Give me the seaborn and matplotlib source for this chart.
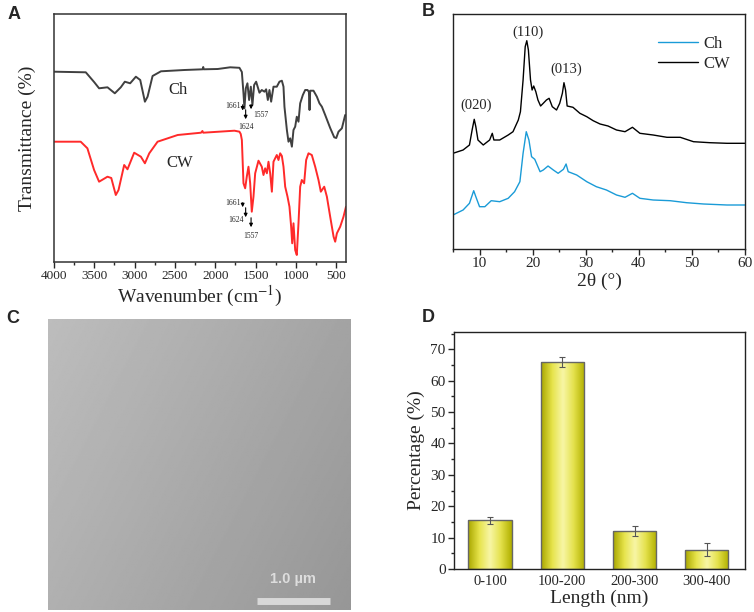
import numpy as np
import pandas as pd
import seaborn as sns
import matplotlib.pyplot as plt
from matplotlib.colors import LinearSegmentedColormap
from matplotlib.ticker import MultipleLocator

# ---- panel A: FTIR (wavenumber, transmittance a.u.) ----
ch_wn = [4000, 3606, 3503, 3441, 3337, 3246, 3172, 3122, 3056, 2985, 2931, 2873, 2840, 2778,
         2674, 2384, 2157, 2150, 2144, 1970, 1816, 1701, 1671, 1651, 1639, 1622, 1602, 1581,
         1560, 1540, 1519, 1494, 1453, 1424, 1391, 1370, 1349, 1329, 1308, 1279, 1238, 1205,
         1175, 1155, 1143, 1113, 1093, 1072, 1051, 1031, 1010, 990, 969, 948, 915, 886, 857,
         840, 832, 824, 783, 741, 709, 679, 638, 576, 526, 501, 473, 431, 390]
ch_t = [190.3, 189.7, 180, 173.7, 174.7, 168.7, 174.7, 180.3, 178.7, 185.3, 182, 160.3, 165.3, 186,
        190.7, 192, 192.7, 195, 192.7, 193, 194.7, 194.2, 190, 168.7, 153.7, 173.7, 178.7, 162,
        175.3, 157, 177, 180.3, 169.3, 172, 170.3, 172.7, 162, 172, 160.3, 175.3, 175.3, 180.3,
        181.3, 175.3, 155.3, 132, 120.3, 123.7, 115.3, 132, 135.3, 145.3, 140.3, 158.7, 167, 172, 172,
        170, 152, 171.3, 171.3, 165.3, 158.7, 155.3, 147, 134, 124.7, 124, 130.3, 133.7, 147]

cw_wn = [4000, 3669, 3586, 3503, 3441, 3337, 3290, 3234, 3200, 3130, 3089, 3006, 2923, 2873,
         2819, 2716, 2467, 2177, 2160, 2150, 1763, 1701, 1685, 1671, 1651, 1630, 1610, 1589,
         1568, 1548, 1527, 1506, 1465, 1424, 1403, 1382, 1361, 1341, 1320, 1299, 1279, 1238,
         1217, 1196, 1175, 1155, 1134, 1105, 1081, 1060, 1047, 1031, 1010, 990, 969, 948, 928,
         899, 874, 845, 804, 762, 721, 692, 650, 617, 576, 534, 514, 493, 452, 411, 380]
cw_t = [120.3, 120.3, 113.7, 92, 80.3, 85.3, 84, 67, 72, 97, 92.7, 109.3, 105.3, 98.7,
        108.7, 120.3, 127, 129.3, 131, 129.3, 131.3, 130.3, 128, 122, 78.7, 73.7, 85.3, 95.3,
        78.7, 50.3, 65.3, 88.7, 101.3, 95.3, 87, 93.7, 88.7, 100.3, 88.7, 70.3, 100.3, 107,
        102, 108.7, 106, 95.3, 75.3, 65.3, 55.3, 35.3, 18.7, 38.7, 12, 7, 38.7, 75.3, 82,
        78.7, 102, 108.7, 107, 95.3, 82, 70.3, 75.3, 65.3, 45.3, 25.3, 20.3, 28.7, 35.3, 45.3, 55.3]

# arrows: (wavenumber, start, end)
ch_arrows = [(1661, 160, 148.7), (1624, 155, 140), (1557, 160, 150)]
cw_arrows = [(1661, 62, 52), (1624, 57, 42), (1557, 47, 32)]

# ---- panel B: XRD ----
cw_2t = [5, 6.9, 8.1, 8.6, 9.0, 9.3, 9.7, 10.7, 11.9, 12.4, 12.7, 13.8, 15.4, 16.3, 17.3, 17.7,
         18.2, 18.6, 18.9, 19.2, 19.6, 19.9, 20.2, 20.6, 21.0, 21.5, 22.0, 22.6, 23.1, 23.7, 24.5,
         25.1, 25.6, 25.9, 26.2, 26.5, 27.6, 28.9, 30.2, 31.4, 32.7, 34.2, 35.8, 37.4, 38.8, 40.2,
         42.7, 45.3, 47.8, 50.3, 53.4, 56.6, 60]
cw_i = [95.7, 99, 104, 119, 129.7, 122.3, 109, 104, 109, 115.7, 109, 109, 114, 117.3, 129, 137.3,
        169, 202.3, 208.3, 199, 169, 159, 163, 157.3, 149, 143, 145.7, 149, 150.7, 142.3, 139,
        145.7, 155.7, 166.3, 159, 143, 141.7, 135.7, 132.3, 128.3, 125, 123, 119, 117.3, 121.7, 115.7,
        114, 111.7, 111.7, 107.3, 106.3, 105.7, 105.7]
ch_2t = [5, 6.9, 8.1, 8.9, 9.3, 10.0, 11.0, 12.2, 13.8, 15.4, 16.6, 17.6, 18.2, 18.8, 19.3, 19.8,
         20.4, 21.4, 22.0, 22.9, 23.9, 24.8, 25.8, 26.3, 26.7, 28.3, 30.2, 32.0, 33.9, 35.8, 37.4,
         38.8, 40.2, 42.7, 45.9, 49.0, 52.2, 56.6, 60]
ch_i = [34, 39, 45.7, 58.3, 52.3, 42.3, 42.3, 48.3, 47.3, 50.7, 57.3, 67.3, 95.7, 117.3, 109, 92.3,
        89.7, 77.3, 79, 83, 79, 75.7, 79.7, 85, 77.3, 74, 67.3, 62.3, 59, 54, 51.7,
        55.7, 50.7, 49, 48.3, 46.3, 45, 44, 44]
peaks = ['(020)', '(110)', '(013)']
peak_pos = [(9.4, 144), (19.2, 217), (26.3, 180)]

# ---- panel D: length distribution ----
lengths = ['0-100', '100-200', '200-300', '300-400']
percent = [15.5, 66.0, 12.1, 6.2]
err = [1.1, 1.5, 1.5, 2.0]

sns.set_style('ticks')
plt.rcParams['font.family'] = ['Liberation Serif', 'DejaVu Serif']
plt.rcParams['mathtext.fontset'] = 'stix'
plt.rcParams['xtick.direction'] = 'out'
plt.rcParams['ytick.direction'] = 'out'

fig = plt.figure(figsize=(7.54, 6.12), dpi=100)
W, H = 754, 612


def box(l, r, t, b):
    return fig.add_axes([l / W, 1 - b / H, (r - l) / W, (b - t) / H])


def letter(x, y, s):
    fig.text(x / W, 1 - y / H, s, fontsize=13, fontweight='bold',
             family='Liberation Sans', va='top', ha='left')


# ---------- A ----------
axA = box(54, 346, 14, 262)
sns.lineplot(x=ch_wn, y=ch_t, ax=axA, color='#404040', lw=1.4, estimator=None, sort=False)
sns.lineplot(x=cw_wn, y=cw_t, ax=axA, color='#ff2a2a', lw=1.4, estimator=None, sort=False)
axA.set_xlim(4000, 380)
axA.set_ylim(0, 248)
axA.set_yticks([])
axA.xaxis.set_major_locator(MultipleLocator(500))
axA.xaxis.set_minor_locator(MultipleLocator(250))
axA.tick_params(axis='x', labelsize=9.5, length=4, width=1, pad=2)
axA.tick_params(axis='x', which='minor', length=2.5, width=1)
axA.set_xlabel('Wavenumber (cm$^{-1}$)', fontsize=14)
axA.xaxis.set_label_coords(0.5, -0.09)
axA.set_ylabel('Transmittance (%)', fontsize=14)
axA.yaxis.set_label_coords(-0.06, 0.5)
axA.text(2462, 172, 'Ch', fontsize=12, ha='center', va='center')
axA.text(2437, 99, 'CW', fontsize=12, ha='center', va='center')
for arrows, labs in ((ch_arrows, [('r', -4), ('b', -5), ('l', -4)]),
                     (cw_arrows, [('r', -3), ('r2', -2), ('b', -6)])):
    for (wn, y0, y1), (side, dy) in zip(arrows, labs):
        axA.annotate('', xy=(wn, y1), xytext=(wn, y0),
                     arrowprops=dict(arrowstyle='-|>', color='black', lw=0.8,
                                     mutation_scale=5))
        lab = str(wn)
        if side == 'r':
            axA.text(wn + 25, y0 + dy, lab, fontsize=5.5, ha='right', va='center')
        elif side == 'r2':
            axA.text(wn + 20, y1, lab, fontsize=5.5, ha='right', va='center')
        elif side == 'l':
            axA.text(wn - 25, y1 + 1 + dy, lab, fontsize=5.5, ha='left', va='center')
        else:
            axA.text(wn, y1 + dy, lab, fontsize=5.5, ha='center', va='center')
for s in axA.spines.values():
    s.set_color('#333333')
    s.set_linewidth(1.1)
letter(8, 6, 'A')

# ---------- B ----------
axB = box(453, 745, 14, 249)
sns.lineplot(x=ch_2t, y=ch_i, ax=axB, color='#1a9bd7', lw=1.0, estimator=None, label='Ch')
sns.lineplot(x=cw_2t, y=cw_i, ax=axB, color='black', lw=1.0, estimator=None, label='CW')
axB.set_xlim(5, 60)
axB.set_ylim(0, 235)
axB.set_yticks([])
axB.xaxis.set_major_locator(MultipleLocator(10))
axB.xaxis.set_minor_locator(MultipleLocator(5))
axB.tick_params(axis='x', labelsize=11, length=4, width=1, pad=2)
axB.tick_params(axis='x', which='minor', length=2.5, width=1)
axB.set_xlabel('2θ (°)', fontsize=14)
axB.xaxis.set_label_coords(0.5, -0.1)
for lab, (px, py) in zip(peaks, peak_pos):
    axB.text(px, py, lab, fontsize=10.5, ha='center', va='center')
leg = axB.legend(loc='upper right', bbox_to_anchor=(1.0, 0.97), frameon=False, fontsize=12,
                 handlelength=2.4, handletextpad=0.3, labelspacing=0.25)
for s in axB.spines.values():
    s.set_color('#222222')
    s.set_linewidth(1.0)
letter(422, 3, 'B')

# ---------- C (TEM micrograph placeholder) ----------
axC = box(48, 351, 319, 610)
gx = np.linspace(0, 1, 200)
shade = 0.74 - 0.10 * gx[None, :] - 0.05 * gx[:, None]
axC.imshow(shade, cmap='gray', vmin=0, vmax=1, extent=[0, 1, 0, 1], aspect='auto')
axC.plot([0.69, 0.93], [0.03, 0.03], color='#d8d8d8', lw=5, solid_capstyle='butt')
axC.text(0.81, 0.105, '1.0 µm', color='#dddddd', fontsize=10.5, fontweight='bold',
         family='Liberation Sans', ha='center', va='center')
axC.set_xlim(0, 1)
axC.set_ylim(0, 1)
axC.axis('off')
letter(6, 310, 'C')

# ---------- D ----------
axD = box(454, 745, 332, 569)
df = pd.DataFrame({'Length': lengths, 'Percentage': percent})
sns.barplot(data=df, x='Length', y='Percentage', ax=axD, color='#e8e660', width=0.6,
            edgecolor='#666666', linewidth=1.0, errorbar=None)
grad = LinearSegmentedColormap.from_list('yel', ['#aaa800', '#e6e34a', '#f8f6a6', '#e4e14c', '#b2b000'])
g = np.linspace(0, 1, 64)[None, :]
for p in axD.patches:
    x0, y0 = p.get_x(), p.get_y()
    im = axD.imshow(g, cmap=grad, extent=[x0, x0 + p.get_width(), y0, y0 + p.get_height()],
                    aspect='auto', zorder=p.get_zorder() + 0.1)
    im.set_clip_path(p)
    p.set_facecolor('none')
    p.set_zorder(p.get_zorder() + 0.2)
axD.errorbar(range(len(lengths)), percent, yerr=err, fmt='none', ecolor='#555555',
             elinewidth=0.8, capsize=2.5, capthick=0.8, zorder=5)
axD.set_xlim(-0.5, 3.53)
axD.set_ylim(0, 75.5)
axD.yaxis.set_major_locator(MultipleLocator(10))
axD.yaxis.set_minor_locator(MultipleLocator(5))
axD.tick_params(axis='y', labelsize=11, length=4, width=1, pad=2)
axD.tick_params(axis='y', which='minor', length=2.5, width=1)
axD.tick_params(axis='x', labelsize=10.5, length=0, pad=4)
axD.set_xlabel('Length (nm)', fontsize=14)
axD.xaxis.set_label_coords(0.5, -0.087)
axD.set_ylabel('Percentage (%)', fontsize=14)
axD.yaxis.set_label_coords(-0.1, 0.5)
for s in axD.spines.values():
    s.set_color('#222222')
    s.set_linewidth(1.0)
letter(422, 309, 'D')

fig.savefig('out.png', dpi=100)
